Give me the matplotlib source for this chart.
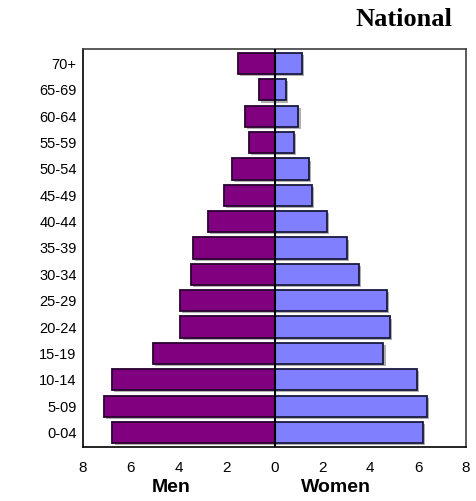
import matplotlib.pyplot as plt
import matplotlib.patheffects as pe

ages = ['0-04', '5-09', '10-14', '15-19', '20-24', '25-29', '30-34', '35-39',
        '40-44', '45-49', '50-54', '55-59', '60-64', '65-69', '70+']
men = [6.77, 7.14, 6.79, 5.09, 3.93, 3.96, 3.49, 3.40,
       2.79, 2.12, 1.79, 1.07, 1.24, 0.66, 1.52]
women = [6.20, 6.37, 5.95, 4.55, 4.84, 4.69, 3.53, 3.03,
         2.19, 1.58, 1.44, 0.81, 1.00, 0.46, 1.13]
xticks = [-8, -6, -4, -2, 0, 2, 4, 6, 8]
xticklabels = ['8', '6', '4', '2', '0', '2', '4', '6', '8']

plt.rcParams['font.family'] = ['Liberation Sans', 'DejaVu Sans']

fig = plt.figure(figsize=(4.77, 5.01), dpi=100)
ax = fig.add_axes([0.174, 0.108, 0.803, 0.794])

shadow = [pe.SimplePatchShadow(offset=(1.5, -1.5), shadow_rgbFace='#b0b0b0', alpha=1.0), pe.Normal()]
y = list(range(len(ages)))
ax.barh(y, [-m for m in men], height=0.8, color='#800080', edgecolor='#2a0030',
        lw=1.3, path_effects=shadow, zorder=2)
ax.barh(y, women, height=0.8, color='#8080ff', edgecolor='#1a1a40',
        lw=1.3, path_effects=shadow, zorder=2)
ax.axvline(0, color='black', lw=1.5, zorder=3)

ax.set_xlim(-8, 8)
ax.set_ylim(-0.55, len(ages) - 0.45)
ax.set_yticks(y)
ax.set_yticklabels(ages, fontsize=10.5)
ax.set_xticks(xticks)
ax.set_xticklabels(xticklabels, fontsize=11)
ax.tick_params(length=0)
ax.tick_params(axis='x', pad=10)
ax.tick_params(axis='y', pad=4.5)
for s in ['left', 'bottom']:
    ax.spines[s].set_color('black')
    ax.spines[s].set_linewidth(1.2)
for s in ['top', 'right']:
    ax.spines[s].set_color('#404040')
    ax.spines[s].set_linewidth(1.2)

fig.text(0.358, 0.018, 'Men', fontsize=14, fontweight='bold', ha='center', va='baseline')
fig.text(0.704, 0.018, 'Women', fontsize=14, fontweight='bold', ha='center', va='baseline')
fig.text(0.847, 0.962, 'National', fontsize=19, fontweight='bold', ha='center',
         va='center', family='Liberation Serif')

fig.savefig('out.png', dpi=100)
